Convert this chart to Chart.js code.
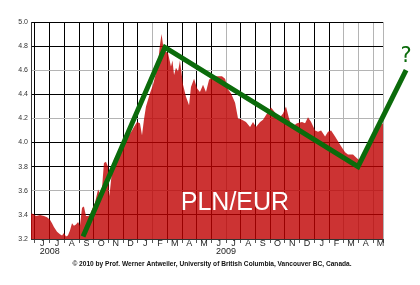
<!DOCTYPE html>
<html>
<head>
<meta charset="utf-8">
<script src="https://cdn.jsdelivr.net/npm/chart.js@4.4.0/dist/chart.umd.min.js"></script>
<style>
  body { margin: 0; background: #fff; }
</style>
</head>
<body>
<canvas id="chart" width="420" height="285"></canvas>
<script>
// x values are months since 1 June 2008
const monthLabels = ["J","J","A","S","O","N","D","J","F","M","A","M","J","J","A","S","O","N","D","J","F","M","A","M"];
const yearLabels = ["2008", "2009"];
const yearAt = [1, 13]; // 1 July of each year

const rateX = [-0.27,-0.14,0.07,0.34,0.61,0.82,1.02,1.16,1.29,1.50,1.70,1.84,1.97,2.11,2.24,2.38,2.52,2.65,2.79,2.93,
  3.06,3.20,3.33,3.47,3.61,3.74,3.90,4.08,4.29,4.42,4.56,4.69,4.83,4.97,5.03,5.10,5.24,5.37,5.58,5.78,
  5.99,6.19,6.39,6.60,6.73,6.94,7.14,7.28,7.41,7.55,7.82,8.03,8.23,8.37,8.50,8.61,8.71,8.84,9.05,9.25,
  9.35,9.46,9.59,9.73,9.86,10.07,10.27,10.48,10.61,10.82,11.02,11.22,11.43,11.63,11.84,12.11,12.45,12.72,12.93,13.13,
  13.33,13.61,13.81,14.08,14.35,14.63,14.83,15.03,15.31,15.51,15.78,16.05,16.33,16.60,16.87,17.07,17.28,17.48,17.82,18.16,
  18.37,18.57,18.78,19.05,19.25,19.46,19.73,19.93,20.14,20.41,20.61,20.82,21.09,21.29,21.63,21.90,22.18,22.45,22.65,22.86,
  23.13,23.33,23.67];
const rateY = [3.41,3.41,3.39,3.40,3.39,3.38,3.36,3.33,3.30,3.26,3.24,3.23,3.25,3.22,3.23,3.27,3.33,3.31,3.32,3.34,
  3.31,3.46,3.47,3.39,3.39,3.40,3.45,3.50,3.61,3.58,3.62,3.83,3.84,3.80,3.55,3.60,3.77,3.86,3.91,3.94,
  3.99,4.02,4.06,4.10,4.13,4.17,4.16,4.06,4.19,4.30,4.41,4.48,4.58,4.66,4.81,4.90,4.81,4.76,4.74,4.63,
  4.68,4.56,4.62,4.59,4.68,4.48,4.38,4.31,4.46,4.53,4.45,4.42,4.48,4.42,4.52,4.55,4.55,4.55,4.53,4.44,
  4.41,4.33,4.20,4.19,4.17,4.13,4.17,4.13,4.17,4.19,4.24,4.29,4.25,4.20,4.24,4.30,4.20,4.13,4.16,4.17,
  4.16,4.21,4.17,4.10,4.09,4.10,4.05,4.09,4.10,4.05,4.01,3.97,3.92,3.90,3.90,3.87,3.84,3.90,3.95,3.99,
  4.08,4.13,4.16];

const trendX = [3.27, 8.84, 21.97, 25.24];
const trendY = [3.22, 4.79, 3.80, 4.60];

const xMin = -0.27, xMax = 23.67;

// 80% of rgb(191,0,0) over white gives #cc3333, and lets the grid show through darker
const RED = "rgba(191, 0, 0, 0.8)";
const GREEN = "#0b6b0b";
const GRAY = "#b4b4b4";

const grayMonth = [8, 13, 21, 22, 23, 24];
const grayRate = [3.6, 4.2, 4.6];
const isGrayRate = (v) => grayRate.some(g => Math.abs(g - v) < 0.01);

const labels = {
  id: "labels",
  afterDraw(chart) {
    const ctx = chart.ctx;
    const x = chart.scales.x, y = chart.scales.y;
    const last = trendX.length - 1;
    ctx.save();
    ctx.textAlign = "center";
    ctx.textBaseline = "middle";
    ctx.fillStyle = GREEN;
    ctx.font = "21px 'DejaVu Sans'";
    ctx.fillText("?", x.getPixelForValue(trendX[last]), y.getPixelForValue(trendY[last]) - 14);
    ctx.fillStyle = "#fff";
    ctx.font = "25px 'Liberation Sans'";
    ctx.fillText("PLN/EUR", x.getPixelForValue(13.6), y.getPixelForValue(3.5));
    ctx.fillStyle = "#111";
    ctx.font = "bold 6.6px 'Liberation Sans'";
    ctx.fillText("\u00a9 2010 by Prof. Werner Antweiler, University of British Columbia, Vancouver BC, Canada.", 212, 264);
    ctx.restore();
  }
};

new Chart(document.getElementById("chart"), {
  type: "line",
  data: {
    datasets: [
      {
        data: rateX.map((v, i) => ({ x: v, y: rateY[i] })),
        backgroundColor: RED,
        borderWidth: 0,
        pointRadius: 0,
        fill: "start",
        tension: 0,
        order: 1
      },
      {
        data: trendX.map((v, i) => ({ x: v, y: trendY[i] })),
        borderColor: GREEN,
        borderWidth: 5,
        borderJoinStyle: "miter",
        pointRadius: 0,
        fill: false,
        tension: 0,
        clip: false,
        order: 0
      }
    ]
  },
  options: {
    responsive: false,
    animation: false,
    events: [],
    layout: { padding: { top: 22, right: 37, left: 0, bottom: 28 } },
    plugins: { legend: { display: false }, tooltip: { enabled: false } },
    scales: {
      x: {
        type: "linear", min: xMin, max: xMax, weight: 0,
        afterBuildTicks: (s) => {
          s.ticks = monthLabels.map((m, i) => ({ value: i }));
          s.ticks.push({ value: xMax });
        },
        afterFit: (s) => { s.height = 0; },
        ticks: { display: false },
        grid: {
          tickLength: 4, tickColor: "#555",
          color: (c) => grayMonth.includes(c.index) ? GRAY : "#000"
        },
        border: { color: "#333" }
      },
      xm: {
        type: "linear", position: "bottom", min: xMin, max: xMax, weight: 1,
        afterBuildTicks: (s) => { s.ticks = monthLabels.map((m, i) => ({ value: i + 0.5 })); },
        afterFit: (s) => { s.height = 8; },
        grid: { display: false, drawTicks: false },
        border: { display: false },
        ticks: {
          autoSkip: false, maxRotation: 0, padding: 0, color: "#222",
          font: { family: "'Liberation Sans'", size: 9, lineHeight: 1 },
          callback: (v, i) => monthLabels[i]
        }
      },
      xy: {
        type: "linear", position: "bottom", min: xMin, max: xMax, weight: 2,
        afterBuildTicks: (s) => { s.ticks = yearAt.map(v => ({ value: v })); },
        afterFit: (s) => { s.height = 10; },
        grid: { display: false, drawTicks: false },
        border: { display: false },
        ticks: {
          autoSkip: false, maxRotation: 0, padding: 0, color: "#222",
          font: { family: "'Liberation Sans'", size: 9, lineHeight: 1 },
          callback: (v, i) => yearLabels[i]
        }
      },
      y: {
        min: 3.2, max: 5.0,
        afterFit: (s) => { s.width = 31; },
        ticks: {
          stepSize: 0.2, padding: 3, color: "#333",
          font: { family: "'Liberation Sans'", size: 7 },
          callback: (v) => v.toFixed(1)
        },
        grid: {
          drawTicks: false,
          color: (c) => isGrayRate(c.tick.value) ? GRAY : "#000"
        },
        border: { color: "#333" }
      }
    }
  },
  plugins: [labels]
});
</script>
</body>
</html>
